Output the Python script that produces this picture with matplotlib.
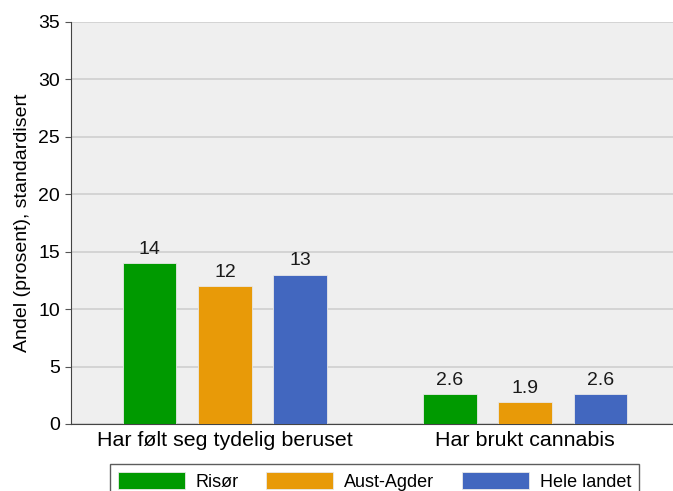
import numpy as np
import matplotlib
matplotlib.use('Agg')
import matplotlib.pyplot as plt

plt.rcParams['font.family'] = ['Liberation Sans', 'DejaVu Sans']

categories = ['Har følt seg tydelig beruset', 'Har brukt cannabis']
series_names = ['Risør', 'Aust-Agder', 'Hele landet']
risor = [14, 2.6]
aust_agder = [12, 1.9]
hele_landet = [13, 2.6]
value_labels = [['14', '2.6'], ['12', '1.9'], ['13', '2.6']]
colors = ['#009a00', '#e89a08', '#4267bf']

fig = plt.figure(figsize=(6.73, 4.91), dpi=100)
ax = fig.add_axes([71 / 673, 67 / 491, 602 / 673, 402 / 491])
ax.set_facecolor('#efefef')

x = np.arange(len(categories))
width = 0.177
offsets = [-0.25, 0, 0.25]
for vals, labs, name, col, off in zip([risor, aust_agder, hele_landet], value_labels,
                                      series_names, colors, offsets):
    bars = ax.bar(x + off, vals, width, color=col, label=name,
                  edgecolor='#e8e8e8', linewidth=0.6, zorder=3)
    for b, lab in zip(bars, labs):
        ax.annotate(lab, (b.get_x() + b.get_width() / 2, b.get_height()),
                    xytext=(0, 4), textcoords='offset points',
                    ha='center', va='bottom', fontsize=14, color='#1a1a1a')

ax.set_xlim(-0.513, 1.493)
ax.set_ylim(0, 35)
ax.set_yticks(range(0, 36, 5))
ax.yaxis.grid(True, color='#cfcfcf', linewidth=1.2, zorder=0)
ax.set_axisbelow(True)
ax.set_xticks(x)
ax.set_xticklabels(categories, fontsize=15.4)
ax.tick_params(axis='x', length=0, pad=5)
ax.tick_params(axis='y', labelsize=14, length=4, pad=4, color='#555555')
ax.set_ylabel('Andel (prosent), standardisert', fontsize=14, labelpad=5)

for s in ['top', 'right']:
    ax.spines[s].set_visible(False)
ax.spines['left'].set_color('#444444')
ax.spines['bottom'].set_color('#444444')

fig.legend(loc='upper center', bbox_to_anchor=(374.5 / 673, 27 / 491), ncol=3,
           fontsize=13, handlelength=3.7, handleheight=1.1, handletextpad=0.6,
           columnspacing=1.55, borderpad=0.45, borderaxespad=0,
           frameon=True, fancybox=False, edgecolor='#333333')

plt.savefig('out.png', dpi=100)
